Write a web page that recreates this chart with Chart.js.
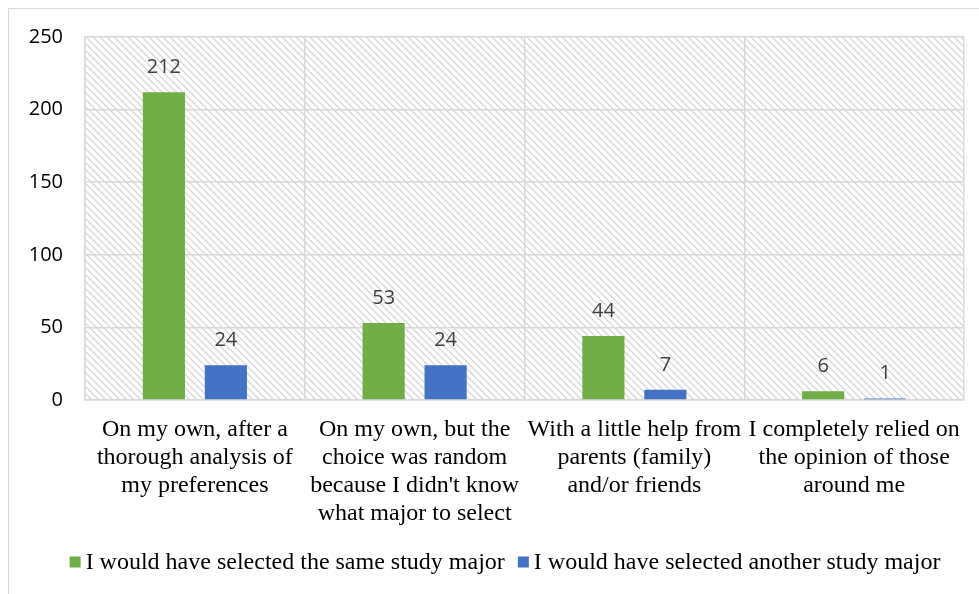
<!DOCTYPE html>
<html>
<head>
<meta charset="utf-8">
<script src="https://cdn.jsdelivr.net/npm/chart.js@4"></script>
<style>
html, body { margin: 0; padding: 0; background: #fff; }
#wrap { width: 979px; height: 594px; }
</style>
</head>
<body>
<div id="wrap"><canvas id="chart" width="979" height="594"></canvas></div>
<script>
// Chart data
const categories = [
    ['On my own, after a', 'thorough analysis of', 'my preferences'],
    ['On my own, but the', 'choice was random', "because I didn't know", 'what major to select'],
    ['With a little help from', 'parents (family)', 'and/or friends'],
    ['I completely relied on', 'the opinion of those', 'around me']
];
const seriesNames = ['I would have selected the same study major', 'I would have selected another study major'];
const sameMajor = [212, 53, 44, 6];
const otherMajor = [24, 24, 7, 1];
const yMin = 0;
const yMax = 250;
const yStep = 50;

const GREEN = '#70AD47';
const BLUE = '#4472C4';
const GRID = '#d9d9d9';

// Diagonal hatch behind the plot area
function makeHatch(ctx) {
    const tile = document.createElement('canvas');
    tile.width = 7;
    tile.height = 7;
    const g = tile.getContext('2d');
    g.strokeStyle = '#d2d2d2';
    g.lineWidth = 1.2;
    g.beginPath();
    g.moveTo(-1, -1); g.lineTo(8, 8);
    g.moveTo(-1, 6); g.lineTo(1, 8);
    g.moveTo(6, -1); g.lineTo(8, 1);
    g.stroke();
    return ctx.createPattern(tile, 'repeat');
}

const backdrop = {
    id: 'backdrop',
    beforeDraw(chart) {
        const { ctx, chartArea } = chart;
        ctx.save();
        // outer frame (top and left edges)
        ctx.strokeStyle = GRID;
        ctx.lineWidth = 1;
        ctx.beginPath();
        ctx.moveTo(8.5, chart.height);
        ctx.lineTo(8.5, 8.5);
        ctx.lineTo(chart.width, 8.5);
        ctx.stroke();
        ctx.fillStyle = makeHatch(ctx);
        ctx.fillRect(chartArea.left, chartArea.top, chartArea.right - chartArea.left, chartArea.bottom - chartArea.top);
        ctx.restore();
    }
};

// Value labels above each bar
const valueLabels = {
    id: 'valueLabels',
    afterDatasetsDraw(chart) {
        const ctx = chart.ctx;
        ctx.save();
        ctx.font = '20px "Open Sans"';
        ctx.fillStyle = '#404040';
        ctx.textAlign = 'center';
        ctx.textBaseline = 'middle';
        chart.data.datasets.forEach((ds, i) => {
            chart.getDatasetMeta(i).data.forEach((bar, j) => {
                ctx.fillText(String(ds.data[j]), bar.x, bar.y - 25);
            });
        });
        ctx.restore();
    }
};

// Legend row under the axis labels
const legendRow = {
    id: 'legendRow',
    afterDraw(chart) {
        const ctx = chart.ctx;
        const box = 11, gap = 5, spacing = 13;
        const centerX = 505, centerY = 562;
        ctx.save();
        ctx.font = '24px "Liberation Serif"';
        ctx.textBaseline = 'middle';
        const items = chart.data.datasets.map(ds => ({
            text: ds.label,
            color: ds.backgroundColor,
            w: ctx.measureText(ds.label).width
        }));
        const total = items.reduce((s, it) => s + box + gap + it.w, 0) + spacing * (items.length - 1);
        let x = centerX - total / 2;
        items.forEach(it => {
            ctx.fillStyle = it.color;
            ctx.fillRect(x, centerY - box / 2, box, box);
            x += box + gap;
            ctx.fillStyle = '#000';
            ctx.fillText(it.text, x, centerY + 1);
            x += it.w + spacing;
        });
        ctx.restore();
    }
};

function init() {
    const ctx = document.getElementById('chart').getContext('2d');
    new Chart(ctx, {
        type: 'bar',
        data: {
            labels: categories,
            datasets: [
                {
                    label: seriesNames[0],
                    data: sameMajor,
                    backgroundColor: GREEN,
                    categoryPercentage: 0.564,
                    barPercentage: 0.68
                },
                {
                    label: seriesNames[1],
                    data: otherMajor,
                    backgroundColor: BLUE,
                    categoryPercentage: 0.564,
                    barPercentage: 0.68
                }
            ]
        },
        options: {
            responsive: false,
            animation: false,
            layout: {
                padding: { left: 8, right: 15, top: 37, bottom: 54 }
            },
            scales: {
                x: {
                    afterFit(scale) { scale.height = 140; },
                    grid: { color: GRID, lineWidth: 1.5, drawTicks: false, offset: true },
                    border: { color: GRID, width: 1.5 },
                    ticks: {
                        color: '#000',
                        font: { family: '"Liberation Serif"', size: 24, lineHeight: 1.1667 },
                        padding: 16,
                        maxRotation: 0,
                        autoSkip: false
                    }
                },
                y: {
                    min: yMin,
                    max: yMax,
                    afterFit(scale) { scale.width = 77; },
                    grid: { color: GRID, lineWidth: 1.5, drawTicks: false },
                    border: { color: GRID, width: 1.5 },
                    ticks: {
                        stepSize: yStep,
                        color: '#000',
                        font: { family: '"Open Sans"', size: 20 },
                        padding: 22
                    }
                }
            },
            plugins: {
                legend: { display: false },
                tooltip: { enabled: false }
            }
        },
        plugins: [backdrop, valueLabels, legendRow]
    });
}

window.addEventListener('load', init);
</script>
</body>
</html>
